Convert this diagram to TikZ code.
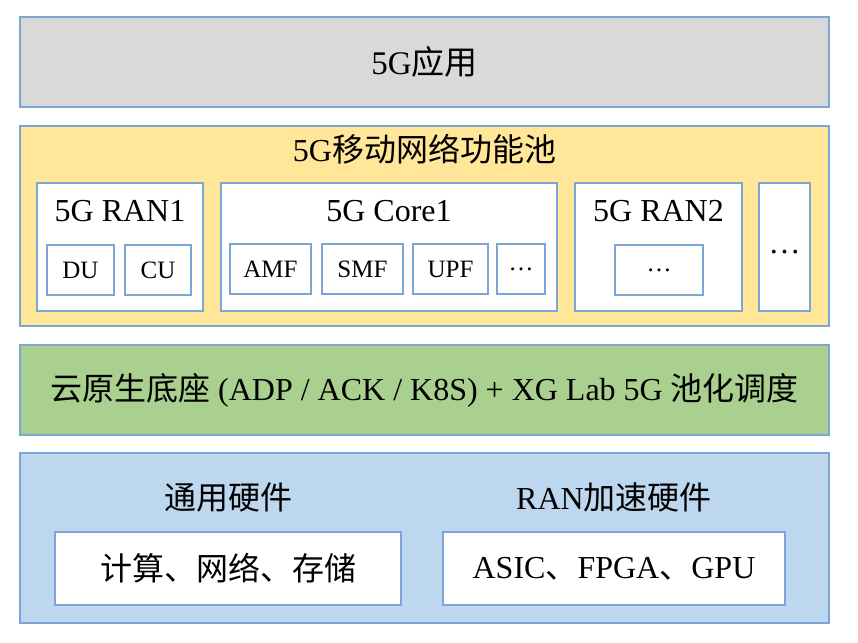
\documentclass[tikz,border=0pt]{standalone}
\usepackage{fontspec}
\setmainfont{Liberation Serif}
\newfontfamily\cjk{Noto Sans CJK SC}
\usepackage{xcolor}
\usepackage{tikz}
\usetikzlibrary{positioning}

\definecolor{edgeblue}{HTML}{7EA6D4}
\definecolor{appgray}{HTML}{D9D9D9}
\definecolor{poolyellow}{HTML}{FFE699}
\definecolor{basegreen}{HTML}{A9D08E}
\definecolor{hwblue}{HTML}{BDD7EE}

\begin{document}
\begin{tikzpicture}[
  x=1pt, y=-1pt,
  layer/.style={rectangle, draw=edgeblue, line width=1.3pt, minimum width=809pt, inner sep=0pt, font=\fontsize{32}{36}\selectfont},
  nfbox/.style={rectangle, draw=edgeblue, fill=white, line width=1.3pt, minimum height=128pt, inner sep=0pt},
  subbox/.style={rectangle, draw=edgeblue, fill=white, line width=1.3pt, minimum height=50pt, inner sep=0pt, font=\fontsize{25}{29}\selectfont},
  hwbox/.style={rectangle, draw=edgeblue, fill=white, line width=1.3pt, minimum width=344pt, minimum height=73pt, inner sep=0pt, font=\fontsize{32}{36}\selectfont},
  ttl/.style={font=\fontsize{32}{36}\selectfont, inner sep=0pt}
]
  \useasboundingbox (0,0) rectangle (858,642);

  % 应用层
  \node[layer, fill=appgray, minimum height=90pt, font=\fontsize{33}{37}\selectfont] (app) at (424.5,62) {5G{\cjk 应用}};

  % 网络功能池
  \node[layer, fill=poolyellow, minimum height=200pt] (pool) at (424.5,226) {};
  \node[ttl] (pooltitle) at (424.5,149) {5G{\cjk 移动网络功能池}};

  \node[nfbox, minimum width=166pt] (ran1) at (120,247) {};
  \node[ttl] (ran1title) at (120,211) {5G RAN1};
  \node[subbox, minimum width=67pt] (du) at (80.5,270) {DU};
  \node[subbox, minimum width=66pt] (cu) at (158,270) {CU};

  \node[nfbox, minimum width=336pt] (core1) at (389,247) {};
  \node[ttl] (core1title) at (389,211) {5G Core1};
  \node[subbox, minimum width=81pt] (amf) at (270.5,269) {AMF};
  \node[subbox, minimum width=81pt] (smf) at (362.5,269) {SMF};
  \node[subbox, minimum width=75pt] (upf) at (450.5,269) {UPF};
  \node[subbox, minimum width=48pt] (coremore) at (521,269) {\dots};

  \node[nfbox, minimum width=167pt] (ran2) at (658.5,247) {};
  \node[ttl] (ran2title) at (658.5,211) {5G RAN2};
  \node[subbox, minimum width=88pt] (ran2more) at (659,270) {\dots};

  \node[nfbox, minimum width=51pt] (nfmore) at (784.5,247) {};
  \node[ttl] (nfmoredots) at (784.5,252) {\dots};

  % 云原生底座
  \node[layer, fill=basegreen, minimum height=90pt] (base) at (424.5,390)
    {{\cjk 云原生底座} (ADP / ACK / K8S) + XG Lab 5G {\cjk 池化调度}};

  % 硬件层
  \node[layer, fill=hwblue, minimum height=170pt] (hw) at (424.5,538) {};
  \node[ttl] (gentitle) at (228,497) {\cjk 通用硬件};
  \node[ttl] (acctitle) at (614,497) {RAN{\cjk 加速硬件}};
  \node[hwbox, minimum width=346pt] (gen) at (228,568.5) {\cjk 计算、网络、存储};
  \node[hwbox, minimum width=342pt] (acc) at (614,568.5) {ASIC{\cjk 、}FPGA{\cjk 、}GPU};
\end{tikzpicture}
\end{document}
